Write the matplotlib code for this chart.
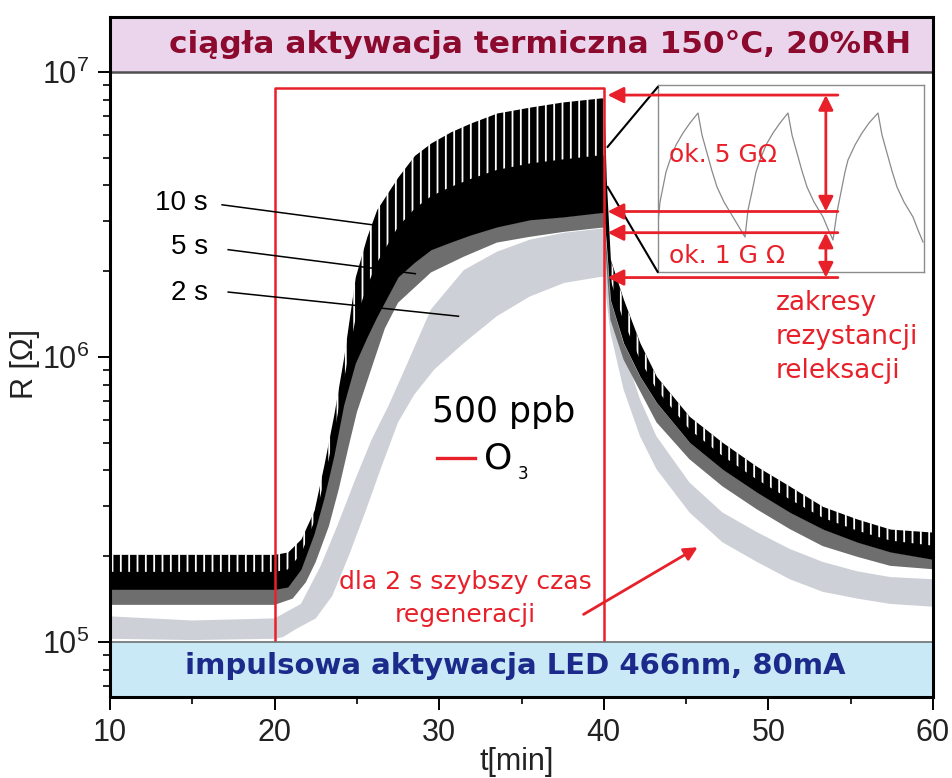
import numpy as np
import matplotlib
matplotlib.use("Agg")
import matplotlib.pyplot as plt
from matplotlib.ticker import MultipleLocator, LogLocator, NullFormatter

# ---------------- data ----------------
# 10 s pulse period: upper (teeth tops) and lower envelope, common time base
t10 = [10, 15, 20, 20.8, 21.6, 22.4, 23.0, 23.6, 24.2, 24.9, 25.6, 26.2, 27.5, 28.5,
       29.5, 30.7, 31.9, 33.5, 35.5, 37.5, 39.8, 40.0, 40.15, 40.4, 41.2, 42.2, 43.2,
       45.2, 47.2, 49.3, 51.3, 53.3, 55.4, 57.4, 60]
r10_hi = [2.03e5, 2.03e5, 2.03e5, 2.07e5, 2.30e5, 2.90e5, 4.2e5, 6.3e5, 1.00e6, 1.91e6,
          2.64e6, 3.29e6, 4.29e6, 5.1e6, 5.64e6, 6.17e6, 6.62e6, 7.18e6, 7.53e6, 7.85e6,
          8.11e6, 8.11e6, 4.19e6, 2.20e6, 1.59e6, 1.12e6, 8.55e5, 6.19e5, 5.02e5,
          4.13e5, 3.52e5, 2.99e5, 2.70e5, 2.49e5, 2.43e5]
r10_lo = [1.53e5, 1.53e5, 1.53e5, 1.56e5, 1.80e5, 2.40e5, 3.2e5, 4.5e5, 6.8e5, 9.5e5,
          1.17e6, 1.38e6, 1.91e6, 2.15e6, 2.38e6, 2.53e6, 2.68e6, 2.86e6, 3.03e6, 3.10e6,
          3.21e6, 3.21e6, 2.51e6, 1.59e6, 1.12e6, 8.55e5, 6.93e5, 5.02e5, 4.04e5,
          3.35e5, 2.85e5, 2.49e5, 2.24e5, 2.07e5, 1.95e5]

# 5 s pulse period: lower envelope (upper part hidden under the 10 s band)
t5_lo = [10, 15, 20, 21.1, 21.9, 22.5, 23.3, 23.9, 24.5, 25.0, 26.0, 26.7, 27.5, 29.5,
         31.5, 33.5, 35.5, 37.6, 39.8, 40.0, 40.4, 41.2, 43.2, 45.2, 47.2, 49.3, 51.3,
         53.3, 55.4, 57.4, 60]
r5_lo = [1.35e5, 1.35e5, 1.35e5, 1.42e5, 1.62e5, 1.91e5, 2.55e5, 3.44e5, 4.86e5, 6.40e5,
         9.55e5, 1.26e6, 1.55e6, 1.98e6, 2.25e6, 2.52e6, 2.64e6, 2.75e6, 2.84e6, 2.84e6,
         1.35e6, 9.79e5, 5.90e5, 4.38e5, 3.52e5, 2.92e5, 2.49e5, 2.17e5, 1.99e5,
         1.85e5, 1.80e5]

# 2 s pulse period: upper and lower envelope
t2_hi = [10, 15, 20, 21.6, 22.8, 23.8, 24.9, 25.9, 26.9, 27.9, 29.5, 31.5, 33.5, 35.5,
         37.6, 39.8, 40.0, 40.4, 41.2, 42.2, 43.2, 45.2, 47.2, 49.3, 51.3, 53.3, 55.4,
         57.4, 60]
r2_hi = [1.23e5, 1.19e5, 1.21e5, 1.36e5, 1.85e5, 2.55e5, 3.72e5, 5.14e5, 6.71e5, 9.04e5,
         1.47e6, 2.02e6, 2.34e6, 2.58e6, 2.73e6, 2.82e6, 2.82e6, 1.82e6, 1.06e6, 7.10e5,
         5.27e5, 3.63e5, 2.85e5, 2.43e5, 2.12e5, 1.91e5, 1.77e5, 1.69e5, 1.66e5]
t2_lo = [10, 15, 20, 20.5, 21.3, 22.5, 23.5, 24.5, 25.5, 26.5, 27.5, 28.5, 29.7, 31.5,
         33.5, 35.5, 37.6, 39.8, 40.0, 40.4, 41.2, 42.2, 43.2, 45.2, 47.2, 49.3, 51.3,
         53.3, 55.4, 57.4, 60]
r2_lo = [1.026e5, 1.016e5, 1.026e5, 1.04e5, 1.11e5, 1.21e5, 1.45e5, 2.00e5, 2.85e5,
         4.13e5, 5.90e5, 7.40e5, 9.04e5, 1.12e6, 1.39e6, 1.63e6, 1.82e6, 1.91e6, 1.91e6,
         1.22e6, 7.69e5, 5.27e5, 4.04e5, 2.85e5, 2.24e5, 1.91e5, 1.66e5, 1.50e5, 1.42e5,
         1.36e5, 1.33e5]

# zoomed inset (three relaxation cycles, arbitrary units)
inset_x = [0, 2, 5, 8, 12, 18, 25, 32, 40, 44, 49, 54, 59, 66, 75, 81, 87,
           90, 95, 98, 102, 108, 115, 122, 130, 134, 139, 144, 149, 156, 165, 170, 175,
           179, 184, 187, 190, 197, 204, 211, 220, 224, 229, 234, 239, 246, 255, 260, 265]
inset_y = [49, 70, 85, 100, 112, 127, 139, 149, 159, 137, 119, 101, 85, 70, 55, 45, 35,
           62, 85, 100, 112, 127, 139, 149, 159, 137, 119, 101, 85, 70, 55, 43, 32,
           60, 85, 100, 112, 127, 139, 149, 159, 137, 119, 101, 85, 70, 55, 42, 30]

x_ticks = [10, 20, 30, 40, 50, 60]
y_ticks = [1e5, 1e6, 1e7]
y_tick_labels = [r"$\mathregular{10^{5}}$", r"$\mathregular{10^{6}}$", r"$\mathregular{10^{7}}$"]
band_labels = ["10 s", "5 s", "2 s"]
o3_window = [20, 40]

# ---------------- styling ----------------
RED = "#e8202a"
PINK = "#ead5ec"
BLUE = "#c9e9f6"
LGRAY = "#cdd0d6"
DGRAY = "#6e6e6e"
plt.rcParams["mathtext.fontset"] = "custom"
plt.rcParams["mathtext.rm"] = "Liberation Sans"
plt.rcParams["hatch.linewidth"] = 1.3
SANS = ["Liberation Sans", "DejaVu Sans"]

fig = plt.figure(figsize=(9.52, 7.78), dpi=100)
ax = fig.add_axes([110 / 952, 1 - 697 / 778, 823 / 952, 680 / 778])
ax.set_yscale("log")
ymin, ymax = 10 ** 4.807, 10 ** 7.193
ax.set_xlim(10, 60)
ax.set_ylim(ymin, ymax)

# bands
ax.fill(np.r_[t2_hi, t2_lo[::-1]], np.r_[r2_hi, r2_lo[::-1]], color=LGRAY, lw=0, zorder=1)
ax.fill(np.r_[t5_lo, t10[::-1]], np.r_[r5_lo, r10_lo[::-1]], color=DGRAY, lw=0, zorder=1.5)
lo = np.array(r10_lo)
hi = np.array(r10_hi)
ax.fill_between(t10, lo, hi, color="black", lw=0, zorder=2)
ax.fill_between(t10, np.sqrt(lo * hi), hi, facecolor="none", edgecolor="white",
                hatch="||", lw=0, zorder=2.1)

# header / footer boxes
ax.axhspan(1e7, ymax, color=PINK, zorder=0.5, lw=0)
ax.axhline(1e7, color="#505050", lw=1.8, zorder=5)
ax.axhspan(ymin, 1e5, color=BLUE, zorder=4, lw=0)
ax.axhline(1e5, color="#707070", lw=1.2, zorder=5)
ax.text(36.1, 10 ** 7.095, "ciągła aktywacja termiczna 150°C, 20%RH", ha="center",
        va="center", fontsize=22.5, fontweight="bold", color="#8b0a2e",
        family="DejaVu Sans", zorder=6)
ax.text(34.6, 10 ** 4.915, "impulsowa aktywacja LED 466nm, 80mA", ha="center",
        va="center", fontsize=21, fontweight="bold", color="#1c2a8c",
        family="DejaVu Sans", zorder=6)

# ozone window
top_red = 8.79e6
ax.plot([o3_window[0], o3_window[0], o3_window[1], o3_window[1]],
        [1e5, top_red, top_red, 1e5], color=RED, lw=1.8, zorder=3)

# band labels with leader lines
lab_y = [3.47e6, 2.44e6, 1.68e6]
lead = [((16.81, 3.42e6), (25.94, 2.91e6)),
        ((17.18, 2.38e6), (28.55, 1.96e6)),
        ((17.18, 1.69e6), (31.17, 1.39e6))]
for lab, yy, (p0, p1) in zip(band_labels, lab_y, lead):
    ax.text(15.96, yy, lab, ha="right", va="center", fontsize=20, family=SANS, zorder=6)
    ax.plot([p0[0], p1[0]], [p0[1], p1[1]], color="black", lw=1.1, zorder=6)

# 500 ppb O3
ax.text(33.9, 6.4e5, "500 ppb", ha="center", va="center", fontsize=25,
        family="DejaVu Sans", zorder=6)
ax.plot([29.89, 32.2], [4.41e5, 4.41e5], color=RED, lw=2.4, zorder=6)
ax.text(32.75, 4.41e5, "O", ha="left", va="center", fontsize=26,
        family="DejaVu Sans", zorder=6)
ax.text(34.75, 3.9e5, "3", ha="left", va="center", fontsize=12,
        family="DejaVu Sans", zorder=6)

# relaxation range arrows
arrow_kw = dict(arrowstyle="-|>", color=RED, lw=2.0, mutation_scale=24,
                shrinkA=0, shrinkB=0)
for yy in [8.30e6, 3.24e6, 2.73e6, 1.90e6]:
    ax.annotate("", xy=(40.23, yy), xytext=(54.22, yy), arrowprops=arrow_kw, zorder=7)
dbl_kw = dict(arrowstyle="<|-|>", color=RED, lw=2.0, mutation_scale=22,
              shrinkA=0, shrinkB=0)
ax.annotate("", xy=(53.49, 8.30e6), xytext=(53.49, 3.24e6), arrowprops=dbl_kw, zorder=7)
ax.annotate("", xy=(53.49, 2.73e6), xytext=(53.49, 1.90e6), arrowprops=dbl_kw, zorder=7)
ax.text(43.94, 5.12e6, "ok. 5 GΩ", ha="left", va="center", fontsize=18, color=RED,
        family="DejaVu Sans", zorder=8)
ax.text(43.94, 2.27e6, "ok. 1 G Ω", ha="left", va="center", fontsize=18, color=RED,
        family="DejaVu Sans", zorder=8)
ax.text(50.45, 1.18e6, "zakresy\nrezystancji\nreleksacji", ha="left", va="center",
        fontsize=19, color=RED, family="DejaVu Sans", linespacing=1.4, zorder=8)

# faster regeneration note
ax.text(31.59, 1.42e5, "dla 2 s szybszy czas\nregeneracji", ha="center", va="center",
        fontsize=18, color=RED, family="DejaVu Sans", linespacing=1.45, zorder=8)
ax.annotate("", xy=(45.7, 2.15e5), xytext=(38.77, 1.25e5),
            arrowprops=dict(arrowstyle="-|>", color=RED, lw=2.0, mutation_scale=20,
                            shrinkA=0, shrinkB=0), zorder=8)

# zoom connector lines
ax.plot([40.23, 43.27], [5.46e6, 8.85e6], color="black", lw=1.5, zorder=6, clip_on=False)
ax.plot([40.23, 43.27], [3.95e6, 1.99e6], color="black", lw=1.5, zorder=6, clip_on=False)

# axes styling
ax.set_xticks(x_ticks)
ax.xaxis.set_minor_locator(MultipleLocator(5))
ax.set_yticks(y_ticks, y_tick_labels)
ax.yaxis.set_minor_locator(LogLocator(base=10, subs=np.arange(2, 10)))
ax.yaxis.set_minor_formatter(NullFormatter())
ax.tick_params(which="major", direction="out", length=9, width=1.4, labelsize=22,
               pad=6)
ax.tick_params(which="minor", direction="out", length=5, width=1.2)
for lbl in ax.get_xticklabels() + ax.get_yticklabels():
    lbl.set_family(SANS)
    lbl.set_color("#222222")
for s in ax.spines.values():
    s.set_linewidth(2.2)
    s.set_zorder(10)
ax.set_xlabel("t[min]", fontsize=22, family=SANS, color="#222222")
ax.set_ylabel("R [Ω]", fontsize=22, family=SANS, color="#222222")
ax.xaxis.set_label_coords(0.494, -0.073)
ax.yaxis.set_label_coords(-0.085, 0.49)

# inset (drawn beneath the transparent main axes so red marks stay on top)
axi = fig.add_axes([658 / 952, 1 - 272 / 778, 266 / 952, 187 / 778])
axi.plot(inset_x, inset_y, color="#8a8a8a", lw=0.9)
axi.set_xlim(0, 266)
axi.set_ylim(0, 187)
axi.set_xticks([])
axi.set_yticks([])
for s in axi.spines.values():
    s.set_color("#8c8c8c")
    s.set_linewidth(1.0)
axi.set_zorder(1)
ax.set_zorder(2)
ax.patch.set_alpha(0.0)

fig.savefig("out.png", dpi=100, facecolor="white")
